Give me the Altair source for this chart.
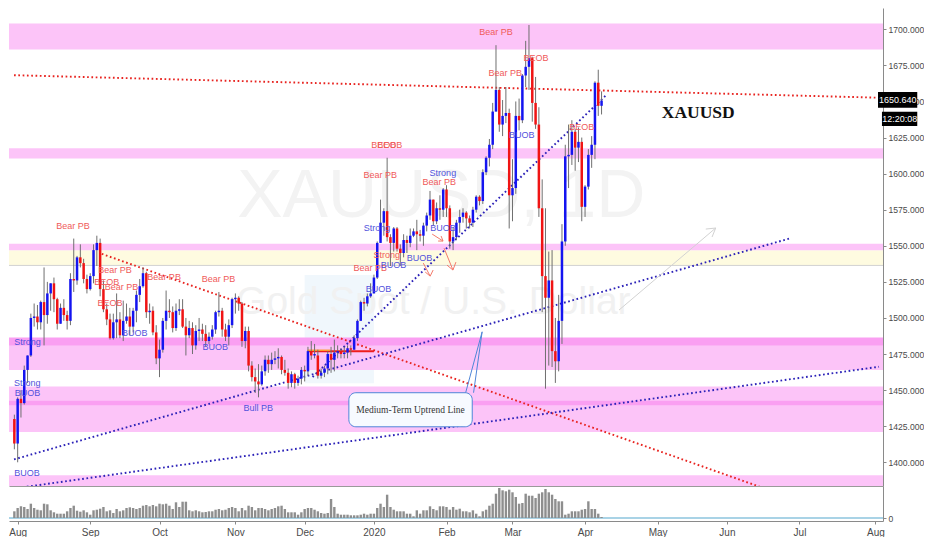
import json
import altair as alt
import pandas as pd

# ---------------- data ----------------
FIRST_INDEX = -1  # bar index of first candle (Jul 31 2019); index 0 = Aug 1 2019 (weekdays, no Dec 25 / Jan 1)

OPEN = [1430, 1413, 1444, 1441, 1464, 1474, 1500, 1501, 1497, 1511, 1502, 1517, 1524, 1513, 1496, 1507, 1502, 1498,
        1527, 1526, 1542, 1538, 1527, 1520, 1529, 1547, 1552, 1520, 1506, 1499, 1486, 1497, 1499, 1488, 1498, 1501,
        1494, 1505, 1516, 1522, 1531, 1504, 1505, 1490, 1472, 1478, 1498, 1505, 1504, 1493, 1505, 1506, 1494, 1488,
        1493, 1481, 1491, 1492, 1489, 1484, 1487, 1492, 1504, 1505, 1492, 1487, 1495, 1513, 1514, 1510, 1484, 1491,
        1467, 1459, 1456, 1454, 1463, 1471, 1468, 1471, 1472, 1473, 1464, 1462, 1455, 1461, 1455, 1458, 1464, 1463,
        1477, 1474, 1474, 1460, 1462, 1465, 1475, 1471, 1476, 1477, 1475, 1476, 1479, 1478, 1486, 1498, 1511, 1510,
        1515, 1517, 1528, 1552, 1566, 1574, 1556, 1552, 1562, 1548, 1545, 1554, 1552, 1557, 1560, 1558, 1557, 1564,
        1571, 1582, 1567, 1576, 1575, 1589, 1576, 1553, 1556, 1566, 1570, 1573, 1569, 1566, 1575, 1584, 1581, 1601,
        1611, 1620, 1643, 1658, 1634, 1640, 1642, 1585, 1590, 1640, 1637, 1668, 1674, 1680, 1649, 1634, 1576, 1529,
        1514, 1526, 1477, 1470, 1498, 1553, 1612, 1613, 1629, 1618, 1622, 1577, 1591, 1613, 1620, 1663, 1647]
HIGH = [1433, 1445, 1450, 1467, 1474, 1503, 1510, 1509, 1512, 1535, 1525, 1524, 1528, 1514, 1510, 1513, 1505, 1531,
        1555, 1543, 1551, 1541, 1530, 1531, 1551, 1557, 1555, 1526, 1510, 1503, 1503, 1517, 1504, 1512, 1510, 1507,
        1507, 1519, 1527, 1535, 1532, 1510, 1508, 1495, 1485, 1500, 1519, 1513, 1508, 1510, 1513, 1513, 1500, 1498,
        1497, 1495, 1500, 1496, 1495, 1490, 1495, 1505, 1518, 1507, 1496, 1499, 1514, 1517, 1515, 1511, 1494, 1494,
        1470, 1465, 1468, 1467, 1474, 1474, 1476, 1477, 1479, 1474, 1471, 1465, 1463, 1462, 1460, 1466, 1467, 1480,
        1484, 1482, 1478, 1465, 1467, 1477, 1480, 1485, 1481, 1479, 1480, 1481, 1481, 1488, 1499, 1512, 1514, 1517,
        1524, 1530, 1553, 1582, 1576, 1611, 1558, 1563, 1563, 1551, 1558, 1557, 1562, 1562, 1568, 1561, 1566, 1573,
        1588, 1582, 1580, 1585, 1590, 1592, 1578, 1563, 1568, 1575, 1576, 1574, 1571, 1577, 1585, 1585, 1603, 1612,
        1624, 1649, 1689, 1660, 1651, 1660, 1645, 1610, 1650, 1652, 1669, 1692, 1703, 1681, 1667, 1646, 1596, 1576,
        1546, 1547, 1500, 1516, 1565, 1620, 1634, 1637, 1631, 1632, 1625, 1592, 1617, 1626, 1664, 1672, 1657]
LOW = [1409, 1400, 1431, 1440, 1455, 1473, 1494, 1492, 1492, 1481, 1496, 1505, 1504, 1492, 1496, 1498, 1492, 1495,
       1518, 1523, 1535, 1524, 1517, 1519, 1524, 1536, 1515, 1504, 1495, 1485, 1485, 1486, 1486, 1484, 1496, 1488,
       1490, 1497, 1511, 1521, 1500, 1496, 1488, 1468, 1459, 1476, 1492, 1500, 1490, 1491, 1502, 1493, 1474, 1486,
       1475, 1478, 1484, 1484, 1480, 1482, 1485, 1489, 1501, 1487, 1484, 1481, 1493, 1503, 1505, 1480, 1479, 1463,
       1456, 1448, 1445, 1453, 1460, 1462, 1464, 1468, 1465, 1461, 1460, 1451, 1452, 1451, 1453, 1454, 1456, 1460,
       1471, 1472, 1458, 1458, 1459, 1461, 1462, 1463, 1472, 1472, 1472, 1472, 1474, 1478, 1484, 1498, 1505, 1508,
       1514, 1517, 1527, 1552, 1557, 1553, 1536, 1546, 1546, 1536, 1542, 1545, 1549, 1556, 1547, 1553, 1550, 1560,
       1568, 1564, 1565, 1568, 1570, 1570, 1548, 1547, 1554, 1559, 1566, 1562, 1562, 1563, 1573, 1578, 1579, 1599,
       1605, 1617, 1643, 1629, 1626, 1635, 1562, 1567, 1586, 1630, 1635, 1660, 1658, 1636, 1631, 1570, 1504, 1451,
       1467, 1466, 1455, 1463, 1482, 1550, 1590, 1606, 1602, 1608, 1567, 1570, 1589, 1604, 1610, 1640, 1641]
CLOSE = [1413, 1444, 1441, 1464, 1474, 1500, 1501, 1497, 1511, 1502, 1517, 1524, 1513, 1496, 1507, 1502, 1498, 1527,
         1526, 1542, 1538, 1527, 1520, 1529, 1547, 1552, 1520, 1506, 1499, 1486, 1497, 1499, 1488, 1498, 1501, 1494,
         1505, 1516, 1522, 1531, 1504, 1505, 1490, 1472, 1478, 1498, 1505, 1504, 1493, 1505, 1506, 1494, 1488, 1493,
         1481, 1491, 1492, 1489, 1484, 1487, 1492, 1504, 1505, 1492, 1487, 1495, 1513, 1514, 1510, 1484, 1491, 1467,
         1459, 1456, 1454, 1463, 1471, 1468, 1471, 1472, 1473, 1464, 1462, 1455, 1461, 1455, 1458, 1464, 1463, 1477,
         1474, 1475, 1460, 1462, 1465, 1475, 1471, 1476, 1477, 1475, 1476, 1479, 1478, 1486, 1498, 1511, 1510, 1515,
         1517, 1528, 1552, 1566, 1574, 1556, 1552, 1562, 1548, 1545, 1554, 1552, 1557, 1560, 1558, 1557, 1564, 1571,
         1582, 1567, 1576, 1575, 1589, 1576, 1553, 1556, 1566, 1570, 1573, 1569, 1566, 1575, 1584, 1581, 1601, 1611,
         1620, 1643, 1658, 1634, 1640, 1642, 1585, 1590, 1640, 1637, 1668, 1674, 1680, 1649, 1634, 1576, 1529, 1514,
         1526, 1477, 1470, 1498, 1553, 1612, 1613, 1629, 1618, 1622, 1577, 1591, 1613, 1620, 1663, 1647, 1650.64]
VOLUME = [67, 100, 117, 110, 90, 143, 100, 83, 77, 143, 137, 77, 57, 43, 43, 43, 67, 100, 123, 73, 63, 77, 57, 33,
          77, 83, 93, 110, 67, 77, 50, 90, 67, 77, 100, 107, 100, 90, 100, 123, 130, 117, 130, 117, 143, 137, 143, 123,
          90, 157, 110, 163, 163, 77, 67, 77, 67, 57, 60, 67, 67, 83, 90, 77, 83, 100, 110, 100, 67, 100, 77, 123, 110,
          77, 100, 100, 90, 77, 90, 100, 117, 123, 90, 57, 57, 57, 33, 57, 90, 100, 100, 83, 67, 50, 43, 50, 190, 110,
          43, 33, 33, 33, 27, 27, 27, 33, 43, 33, 43, 43, 100, 143, 110, 233, 110, 83, 67, 67, 67, 43, 43, 17, 77, 43,
          77, 77, 117, 90, 77, 117, 117, 110, 83, 110, 83, 93, 67, 67, 57, 77, 43, 17, 67, 83, 123, 143, 243, 300, 277,
          267, 283, 257, 210, 143, 150, 243, 223, 223, 200, 243, 257, 290, 257, 233, 190, 167, 167, 33, 43, 67, 67, 67,
          83, 90, 167, 90, 90, 43, 10]

MONTH_TICK_INDEX = [0, 22, 43, 66, 87, 108, 130, 150, 172, 194, 215, 237, 260]
MONTH_TICK_LABELS = ["Aug", "Sep", "Oct", "Nov", "Dec", "2020", "Feb", "Mar", "Apr", "May", "Jun", "Jul", "Aug"]
PRICE_TICKS = [1400, 1425, 1450, 1475, 1500, 1525, 1550, 1575, 1600, 1625, 1650, 1675, 1700]
LAST_PRICE_TEXT = "1650.640"
COUNTDOWN_TEXT = "12:20:08"

# supply / demand zones (price ranges)
ZONE_LOW = [1686.0, 1610.4, 1546.8, 1464.0, 1480.7, 1421.0, 1439.6, 1370.0, 1536.4]
ZONE_HIGH = [1704.0, 1617.6, 1551.4, 1480.7, 1486.5, 1452.5, 1442.6, 1391.0, 1546.8]
ZONE_KIND = ["zone", "zone", "zone", "zone", "core", "zone", "core", "zone", "range"]

# trend lines: start index/price, end index/price, kind
LINE_NAME = ["resist_flat", "resist_down", "support_long", "support_mid", "support_steep"]
LINE_I0 = [-1.1, 25.5, -1.1, -1.1, 89.4]
LINE_P0 = [1668.2, 1544.4, 1381.8, 1402.0, 1459.1]
LINE_I1 = [261.1, 261.0, 261.1, 234.2, 178.7]
LINE_P1 = [1652.6, 1353.9, 1466.2, 1555.2, 1655.1]
LINE_KIND = ["bear", "bear", "bull", "bull", "bull"]

# signal labels
LABEL_TEXT = ["Bear PB", "Bear PB", "Bear PB", "Bear PB", "Bear PB", "Bear PB", "Bear PB", "Bear PB", "Bear PB",
              "Bear PB", "BEOB", "BEOB", "BEOB", "BEOB", "BEOB", "BEOB", "Strong",
              "BUOB", "BUOB", "BUOB", "BUOB", "BUOB", "BUOB", "BUOB", "BUOB", "BUOB",
              "Strong", "Strong", "Strong", "Strong", "Bull PB"]
LABEL_IDX = [16.8, 29.5, 31.5, 44.4, 60.9, 109.9, 127.8, 106.9, 145.0, 147.8, 27.0, 28.0, 111.0, 112.8, 157.1,
             171.0, 111.9, 35.5, 59.9, 3.0, 2.8, 152.8, 128.9, 113.9, 121.8, 109.4, 3.0, 2.9, 128.9, 108.9, 72.9]
LABEL_PRICE = [1563.9, 1533.0, 1521.2, 1528.6, 1527.0, 1599.0, 1594.4, 1534.4, 1698.3, 1669.5, 1525.1, 1510.1,
               1619.8, 1619.8, 1680.3, 1632.5, 1543.6, 1489.7, 1480.0, 1448.2, 1392.7, 1626.8, 1562.5, 1536.7,
               1541.7, 1519.8, 1483.5, 1454.7, 1600.2, 1562.1, 1437.4]
LABEL_SIDE = ["bear"] * 17 + ["bull"] * 14

# hand-drawn arrows (segments in index / price units)
SEG_I0 = [182.3, 208.6, 210.5, 125.65, 127.45, 128.35, 129.25, 130.15, 132.85, 122.96, 123.55, 125.95]
SEG_P0 = [1505.5, 1561.6, 1556.1, 1558.1, 1553.3, 1556.8, 1548.4, 1536.6, 1538.7, 1538.0, 1531.8, 1533.2]
SEG_I1 = [211.6, 211.6, 211.6, 128.95, 128.95, 128.95, 131.95, 131.95, 131.95, 125.05, 125.05, 125.05]
SEG_P1 = [1562.3, 1562.3, 1562.3, 1553.3, 1553.3, 1553.3, 1533.2, 1533.2, 1533.2, 1529.0, 1529.0, 1529.0]
SEG_KIND = ["gray"] * 3 + ["red"] * 9

# consolidation box and breakout level (December)
BOX_I = [87.0, 108.0]
BOX_P = [1454.8, 1529.7]
LEVEL_I = [87.9, 108.0]
LEVEL_P = 1477.0
LEVEL2_I = [87.9, 94.8]

# callout "Medium-Term Uptrend Line"
CALLOUT_TEXT = "Medium-Term Uptrend Line"
CALLOUT_I = [100.4, 137.8]
CALLOUT_P = [1424.6, 1448.2]
POINTER_I = [135.8, 140.8, 138.2]
POINTER_P = [1448.2, 1490.4, 1448.2]

# ---------------- geometry / styles ----------------
W = 874
H_PRICE = 478
H_VOL = 35
X_DOMAIN = [-1.109, 260.80]
P_DOMAIN = [1383.57, 1714.76]
V_DOMAIN = [-30, 320]

FONT = "Liberation Sans, Arial, sans-serif"
WICK = "#6f6f6f"
CANDLE_COLORS = {"up": "#1414f0", "down": "#f01414"}
ZONE_COLORS = {"zone": "#fcc4f8", "core": "#fa9ff2", "range": "#fefbe0"}
LINE_COLORS = {"bear": "#e8231f", "bull": "#2c22b8"}
LABEL_COLORS = {"bear": "#f05a5a", "bull": "#5252dc"}
SEG_COLORS = {"gray": "#d2d2d2", "red": "#f47a6a"}

xs = alt.Scale(domain=X_DOMAIN, nice=False, zero=False)
ps = alt.Scale(domain=P_DOMAIN, nice=False, zero=False)
vs = alt.Scale(domain=V_DOMAIN, nice=False, zero=False)

X_AXIS_PRICE = alt.Axis(title=None, labels=False, ticks=False, grid=False, domainColor="#9a9a9a")
Y_AXIS_PRICE = alt.Axis(title=None, orient="right", values=PRICE_TICKS, format=".3f", grid=False,
                        tickSize=3, labelPadding=2, labelFont=FONT, labelFontSize=8.6, labelColor="#4a4a4a",
                        tickColor="#8a8a8a", domainColor="#8a8a8a")

label_expr = "{}[indexof({}, datum.value)]".format(json.dumps(MONTH_TICK_LABELS), json.dumps(MONTH_TICK_INDEX))
X_AXIS_VOL = alt.Axis(title=None, values=MONTH_TICK_INDEX, labelExpr=label_expr, grid=False, tickSize=3,
                      labelPadding=3, labelFont=FONT, labelFontSize=10, labelColor="#4a4a4a", labelFlush=True,
                      labelOverlap=False, tickColor="#8a8a8a", domainColor="#8a8a8a")
Y_AXIS_VOL = alt.Axis(title=None, orient="right", values=[0], format="d", grid=False, tickSize=3,
                      labelPadding=2, labelFont=FONT, labelFontSize=8.6, labelColor="#4a4a4a",
                      tickColor="#8a8a8a", domainColor="#8a8a8a")


def X(field):
    return alt.X(field, type="quantitative", scale=xs, axis=X_AXIS_PRICE)


def P(field):
    return alt.Y(field, type="quantitative", scale=ps, axis=Y_AXIS_PRICE)


def C(field):
    return alt.Color(field, type="nominal", scale=None, legend=None)


n = len(OPEN)
candles = pd.DataFrame({
    "i": list(range(FIRST_INDEX, FIRST_INDEX + n)),
    "open": OPEN, "high": HIGH, "low": LOW, "close": CLOSE, "volume": VOLUME,
})
candles["col"] = [CANDLE_COLORS["up"] if c >= o else CANDLE_COLORS["down"] for o, c in zip(OPEN, CLOSE)]

zones = pd.DataFrame({"lo": ZONE_LOW, "hi": ZONE_HIGH, "col": [ZONE_COLORS[k] for k in ZONE_KIND]})
lines_rows = []
for k in range(len(LINE_NAME)):
    lines_rows.append({"name": LINE_NAME[k], "i": LINE_I0[k], "p": LINE_P0[k], "col": LINE_COLORS[LINE_KIND[k]], "o": 0})
    lines_rows.append({"name": LINE_NAME[k], "i": LINE_I1[k], "p": LINE_P1[k], "col": LINE_COLORS[LINE_KIND[k]], "o": 1})
lines_df = pd.DataFrame(lines_rows)
labels_df = pd.DataFrame({"text": LABEL_TEXT, "i": LABEL_IDX, "p": LABEL_PRICE,
                          "col": [LABEL_COLORS[s] for s in LABEL_SIDE]})
segs_df = pd.DataFrame({"i0": SEG_I0, "p0": SEG_P0, "i1": SEG_I1, "p1": SEG_P1,
                        "col": [SEG_COLORS[k] for k in SEG_KIND]})

# ---------------- price pane ----------------
box = alt.Chart(pd.DataFrame({"i0": [BOX_I[0]], "i1": [BOX_I[1]], "p0": [BOX_P[0]], "p1": [BOX_P[1]]})).mark_rect(
    color="#f0f7fc").encode(x=X("i0"), x2="i1", y=P("p0"), y2="p1")

zone_layer = alt.Chart(zones).mark_rect(clip=True).encode(
    x=alt.value(0), x2=alt.value(W), y=P("lo"), y2="hi", color=C("col"))
range_edge = alt.Chart(pd.DataFrame({"p": [ZONE_LOW[8]]})).mark_rule(color="#d2d2d2", strokeWidth=1).encode(
    y=P("p"), x=alt.value(0), x2=alt.value(W))

wm1 = alt.Chart(pd.DataFrame({"t": ["XAUUSD, 1D"], "i": [128.4], "p": [1583.8]})).mark_text(
    font=FONT, fontSize=68, color="#f3f3f3", clip=True).encode(x=X("i"), y=P("p"), text="t:N")
wm2 = alt.Chart(pd.DataFrame({"t": ["Gold Spot / U.S. Dollar"], "i": [126.0], "p": [1511.0]})).mark_text(
    font=FONT, fontSize=39, color="#f1f1f1", clip=True).encode(x=X("i"), y=P("p"), text="t:N")

trend = alt.Chart(lines_df).mark_line(strokeDash=[1.7, 2.6], strokeWidth=1.9, clip=True).encode(
    x=X("i"), y=P("p"), detail="name:N", order="o:Q", color=C("col"))

level = alt.Chart(pd.DataFrame({"i0": [LEVEL_I[0]], "i1": [LEVEL_I[1]], "p": [LEVEL_P]})).mark_rule(
    color="#ee1c1c", strokeWidth=2).encode(x=X("i0"), x2="i1", y=P("p"))
level2 = alt.Chart(pd.DataFrame({"i0": [LEVEL2_I[0]], "i1": [LEVEL2_I[1]], "p": [LEVEL_P + 0.6]})).mark_rule(
    color="#ff9a2e", strokeWidth=1.5).encode(x=X("i0"), x2="i1", y=P("p"))

segs = alt.Chart(segs_df).mark_rule(strokeWidth=1).encode(
    x=X("i0"), x2="i1", y=P("p0"), y2="p1", color=C("col"))

wicks = alt.Chart(candles).mark_rule(color=WICK, strokeWidth=1, clip=True).encode(x=X("i"), y=P("low"), y2="high")
bodies = alt.Chart(candles).mark_bar(size=2.5, clip=True).encode(
    x=X("i"), y=P("open"), y2="close", color=C("col"))

labels = alt.Chart(labels_df).mark_text(font=FONT, fontSize=9, clip=True).encode(
    x=X("i"), y=P("p"), text="text:N", color=C("col"))

callout = alt.Chart(pd.DataFrame({"i0": [CALLOUT_I[0]], "i1": [CALLOUT_I[1]], "p0": [CALLOUT_P[0]],
                                  "p1": [CALLOUT_P[1]]})).mark_rect(
    cornerRadius=7, fill="#f7faff", stroke="#4f86d8", strokeWidth=1).encode(x=X("i0"), x2="i1", y=P("p0"), y2="p1")
pointer = alt.Chart(pd.DataFrame({"i": POINTER_I, "p": POINTER_P, "o": [0, 1, 2]})).mark_line(
    color="#4f86d8", strokeWidth=1).encode(x=X("i"), y=P("p"), order="o:Q")
callout_text = alt.Chart(pd.DataFrame({"t": [CALLOUT_TEXT], "i": [119.1], "p": [1436.2]})).mark_text(
    font="Liberation Serif, serif", fontSize=9.5, color="#333333").encode(x=X("i"), y=P("p"), text="t:N")

symbol = alt.Chart(pd.DataFrame({"t": ["XAUUSD"], "i": [206.3], "p": [1641.8]})).mark_text(
    font="Liberation Serif, serif", fontSize=17.5, fontWeight="bold", color="#111111").encode(
    x=X("i"), y=P("p"), text="t:N")

tags = pd.DataFrame({"i0": [260.8, 262.0], "i1": [272.7, 272.7], "p0": [1645.6, 1633.0], "p1": [1656.6, 1642.9],
                     "t": [LAST_PRICE_TEXT, COUNTDOWN_TEXT], "ic": [266.8, 267.4], "pc": [1651.1, 1637.9]})
tag_rect = alt.Chart(tags).mark_rect(color="#000000", clip=False).encode(x=X("i0"), x2="i1", y=P("p0"), y2="p1")
tag_text = alt.Chart(tags).mark_text(font=FONT, fontSize=9, color="#ffffff", clip=False).encode(
    x=X("ic"), y=P("pc"), text="t:N")

price = alt.layer(
    box, zone_layer, range_edge, wm1, wm2, trend, level, level2, segs, wicks, bodies, labels,
    callout, pointer, callout_text, symbol, tag_rect, tag_text
).properties(width=W, height=H_PRICE)

# ---------------- volume pane ----------------
vol_bars = alt.Chart(candles).mark_bar(size=2.4, color="#8e8e8e", clip=True).encode(
    x=alt.X("i:Q", scale=xs, axis=X_AXIS_VOL),
    y=alt.Y("volume:Q", scale=vs, axis=Y_AXIS_VOL),
    y2=alt.datum(0))
vol_base = alt.Chart(pd.DataFrame({"v": [0]})).mark_rule(color="#8cc4de", strokeWidth=1.5).encode(
    y=alt.Y("v:Q", scale=vs, axis=Y_AXIS_VOL), x=alt.value(0), x2=alt.value(W))
volume = alt.layer(vol_base, vol_bars).properties(width=W, height=H_VOL)

chart = alt.vconcat(price, volume, spacing=0).properties(
    padding=0, background="#ffffff"
).configure_view(stroke=None).configure_concat(spacing=0)

chart.save("out.html", embed_options={"renderer": "svg", "actions": False})
